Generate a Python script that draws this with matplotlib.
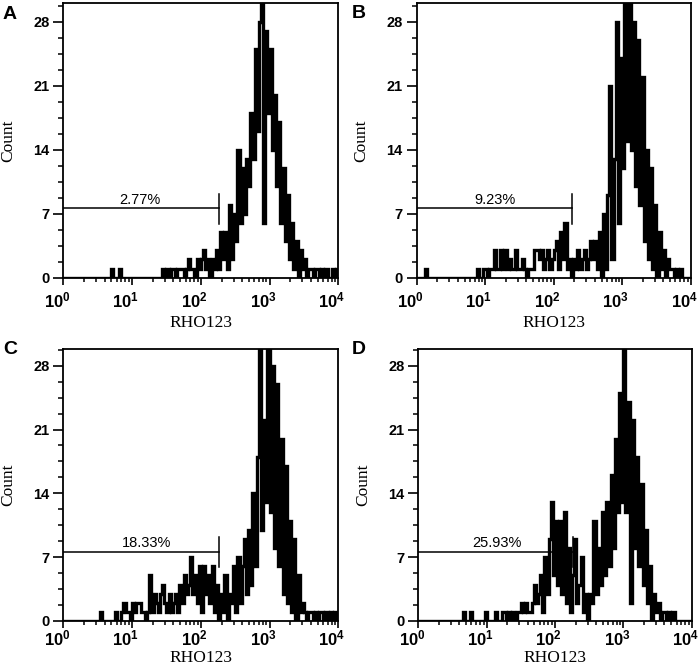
import matplotlib
matplotlib.use('Agg')
import matplotlib.pyplot as plt
import numpy as np
from matplotlib.ticker import MultipleLocator, NullFormatter
from matplotlib.transforms import ScaledTranslation

plt.rcParams['font.family'] = 'Liberation Sans'
plt.rcParams['mathtext.fontset'] = 'custom'
plt.rcParams['mathtext.rm'] = 'Liberation Sans:bold'
plt.rcParams['mathtext.bf'] = 'Liberation Sans:bold'

# histogram counts, 128 log-spaced channels from 10^0 to 10^4 (32 per decade)
counts_a = [0, 0, 0, 0, 0, 0, 0, 0, 0, 0, 0, 0, 0, 0, 0, 0,
            0, 0, 0, 0, 0, 0, 1, 0, 0, 0, 1, 0, 0, 0, 0, 0,
            0, 0, 0, 0, 0, 0, 0, 0, 0, 0, 0, 0, 0, 0, 1, 0,
            1, 0, 1, 1, 0, 1, 1, 1, 0, 1, 2, 1, 1, 0, 2, 1,
            2, 3, 1, 2, 0, 2, 1, 3, 1, 5, 2, 5, 1, 8, 2, 7,
            4, 14, 6, 12, 7, 13, 10, 18, 13, 25, 16, 28, 30, 6, 27, 18,
            25, 14, 20, 10, 17, 6, 12, 4, 9, 2, 6, 1, 4, 0, 3, 1,
            2, 0, 1, 1, 0, 1, 1, 0, 1, 0, 1, 0, 0, 1, 0, 1]
counts_b = [0, 0, 0, 0, 1, 0, 0, 0, 0, 0, 0, 0, 0, 0, 0, 0,
            0, 0, 0, 0, 0, 0, 0, 0, 0, 0, 0, 0, 1, 0, 0, 1,
            1, 0, 1, 1, 3, 1, 1, 3, 1, 3, 1, 2, 1, 1, 3, 1,
            1, 2, 1, 0, 1, 1, 1, 3, 3, 2, 3, 1, 2, 3, 1, 2,
            3, 4, 1, 5, 2, 6, 1, 2, 0, 2, 1, 3, 1, 2, 3, 1,
            2, 4, 2, 4, 1, 5, 0, 7, 1, 9, 21, 2, 13, 28, 6, 24,
            12, 30, 15, 30, 14, 28, 10, 26, 8, 22, 4, 14, 2, 12, 1, 8,
            0, 5, 1, 3, 0, 2, 1, 1, 0, 1, 0, 1, 0, 0, 0, 0]
counts_c = [0, 0, 0, 0, 0, 0, 0, 0, 0, 0, 0, 0, 0, 0, 0, 0,
            0, 1, 0, 0, 0, 0, 0, 0, 1, 0, 0, 1, 2, 1, 1, 0,
            2, 1, 2, 2, 1, 1, 0, 1, 5, 1, 3, 2, 1, 3, 4, 2,
            1, 3, 1, 2, 3, 1, 4, 2, 5, 3, 4, 7, 3, 5, 2, 6,
            1, 6, 3, 5, 2, 6, 1, 4, 0, 3, 1, 5, 0, 3, 2, 6,
            1, 7, 2, 6, 9, 3, 10, 4, 14, 6, 18, 30, 10, 22, 13, 30,
            12, 28, 8, 26, 6, 20, 3, 17, 2, 11, 1, 9, 0, 5, 1, 2,
            1, 0, 1, 1, 0, 1, 0, 1, 1, 0, 1, 0, 1, 0, 1, 0]
counts_d = [0, 0, 0, 0, 0, 0, 0, 0, 0, 0, 0, 0, 0, 0, 0, 0,
            0, 0, 0, 0, 0, 1, 0, 0, 1, 0, 0, 0, 0, 0, 0, 1,
            0, 0, 0, 0, 1, 0, 0, 1, 1, 0, 1, 0, 1, 0, 1, 1,
            2, 1, 2, 1, 1, 2, 4, 2, 3, 5, 1, 7, 3, 9, 13, 5,
            11, 4, 11, 3, 12, 2, 8, 1, 5, 9, 2, 4, 7, 1, 3, 0,
            3, 2, 11, 3, 8, 4, 12, 5, 13, 6, 16, 8, 20, 12, 25, 13,
            30, 12, 24, 2, 22, 8, 18, 6, 15, 4, 10, 2, 6, 0, 3, 1,
            2, 0, 1, 1, 0, 1, 0, 1, 0, 0, 0, 0, 0, 0, 0, 0]

panel_letters = ['A', 'B', 'C', 'D']
gate_labels = ['2.77%', '9.23%', '18.33%', '25.93%']
gate_label_x = [13.2, 13.9, 16.3, 14.0]
gate_end = 182
gate_y = 7.6
gate_bar = (5.9, 9.2)
y_ticks = [0, 7, 14, 21, 28]
x_ticks = [1, 10, 100, 1000, 10000]
x_tick_labels = [r'$\mathdefault{10^{%d}}$' % i for i in range(5)]

fig = plt.figure(figsize=(7, 6.72), dpi=100)

# axes rectangles (figure fraction) and y top for each panel
rects = [[0.0904, 0.5868, 0.3930, 0.4087],
         [0.5953, 0.5868, 0.3914, 0.4087],
         [0.0904, 0.0759, 0.3930, 0.4043],
         [0.5976, 0.0759, 0.3905, 0.4043]]
y_tops = [30.05, 30.05, 29.8, 29.8]
xtick_pad = [4, 4, 0.5, 0.5]
xlabel_y = [-0.135, -0.135, -0.108, -0.108]
letter_pos = [(0.004, 0.991), (0.503, 0.993), (0.004, 0.493), (0.502, 0.493)]

for k, counts in enumerate([counts_a, counts_b, counts_c, counts_d]):
    ax = fig.add_axes(rects[k])
    edges = np.logspace(0, 4, len(counts) + 1)

    # gate marker
    ax.plot([1, gate_end], [gate_y, gate_y], color='k', lw=1.1, zorder=1)
    ax.plot([gate_end, gate_end], gate_bar, color='k', lw=1.1, zorder=1)
    ax.text(gate_label_x[k], gate_y + 0.5, gate_labels[k], ha='center', va='baseline',
            fontsize=10.5)

    ax.stairs(counts, edges, baseline=None, color='k', lw=2.4, zorder=2)

    ax.set_xscale('log')
    ax.set_xlim(1, 1e4)
    ax.set_ylim(0, y_tops[k])
    ax.set_xticks(x_ticks)
    ax.set_xticklabels(x_tick_labels, fontsize=12, fontweight='bold')
    ax.xaxis.set_minor_formatter(NullFormatter())
    ax.set_yticks(y_ticks)
    ax.set_yticklabels([str(v) for v in y_ticks], fontsize=10.5, fontweight='bold')
    ax.yaxis.set_minor_locator(MultipleLocator(1.75))

    ax.tick_params(axis='x', which='major', direction='out', length=5, width=1.2,
                   pad=xtick_pad[k])
    ax.tick_params(axis='x', which='minor', direction='out', length=3, width=1.1)
    ax.tick_params(axis='y', which='major', direction='out', length=7, width=1.2, pad=3)
    ax.tick_params(axis='y', which='minor', direction='out', length=3.5, width=1.1)
    for lab in ax.get_xticklabels():
        lab.set_horizontalalignment('right')
        lab.set_transform(lab.get_transform() + ScaledTranslation(5 / 72, 0, fig.dpi_scale_trans))
    for sp in ax.spines.values():
        sp.set_linewidth(1.3)

    ax.set_ylabel('Count', family='Liberation Serif', fontsize=12.5)
    ax.yaxis.set_label_coords(-0.172, 0.5)
    ax.set_xlabel('RHO123', family='Liberation Serif', fontsize=12.5)
    ax.xaxis.set_label_coords(0.5, xlabel_y[k])

    fig.text(letter_pos[k][0], letter_pos[k][1], panel_letters[k], ha='left', va='top',
             fontsize=14, fontweight='bold')

fig.savefig('out.png', dpi=100)
